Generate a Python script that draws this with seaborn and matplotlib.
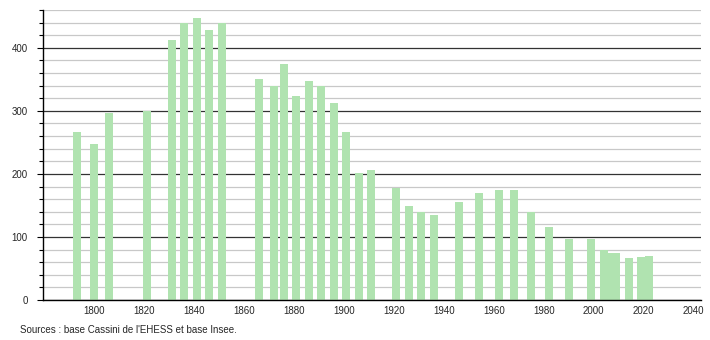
import numpy as np
import matplotlib
matplotlib.use("Agg")
import matplotlib.pyplot as plt
import seaborn as sns

years = [1793, 1800, 1806, 1821, 1831, 1836, 1841, 1846, 1851, 1866, 1872, 1876,
         1881, 1886, 1891, 1896, 1901, 1906, 1911, 1921, 1926, 1931, 1936, 1946,
         1954, 1962, 1968, 1975, 1982, 1990, 1999, 2004, 2006, 2009, 2014, 2019, 2022]
population = [267, 248, 296, 300, 413, 440, 448, 428, 440, 351, 340, 374,
              323, 347, 339, 312, 266, 202, 207, 177, 149, 140, 135, 156,
              170, 175, 175, 140, 116, 97, 97, 79, 75, 74, 67, 68, 70]
x_ticks = list(range(1800, 2041, 20))
y_major = [0, 100, 200, 300, 400]
source_text = "Sources : base Cassini de l'EHESS et base Insee."

sns.set_style("white")
plt.rcParams['font.family'] = ['Liberation Sans', 'DejaVu Sans']

fig = plt.figure(figsize=(7.1, 3.4), dpi=100)
ax = fig.add_axes([43/710, 40/340, 658/710, 290/340])

min_gap = np.diff(sorted(years)).min()
sns.barplot(x=years, y=population, native_scale=True, color="#b0e3b0",
            saturation=1, width=3.2/min_gap, ax=ax, zorder=3,
            edgecolor="none", linewidth=0)

ax.set_xlim(1779.5, 2043)
ax.set_ylim(0, 460)
ax.set_xticks(x_ticks)
ax.set_xticklabels([str(t) for t in x_ticks])
ax.set_yticks(y_major)
ax.set_yticks(np.arange(0, 461, 20), minor=True)

ax.grid(False)
ax.grid(True, which="minor", axis="y", color="#c8c8c8", linewidth=0.9, zorder=0)
ax.grid(True, which="major", axis="y", color="#333333", linewidth=0.9, zorder=1)
ax.set_axisbelow(True)

for s in ["top", "right"]:
    ax.spines[s].set_visible(False)
for s in ["left", "bottom"]:
    ax.spines[s].set_color("black")
    ax.spines[s].set_linewidth(1.0)
    ax.spines[s].set_zorder(5)

ax.tick_params(axis="y", which="major", direction="out", length=4, width=0.8,
               color="black", labelsize=7, pad=7, left=True)
ax.tick_params(axis="y", which="minor", direction="out", length=3, width=0.8,
               color="black", left=True)
ax.tick_params(axis="x", which="both", length=0, labelsize=7, pad=4)
ax.set_xlabel("")
ax.set_ylabel("")

fig.text(20/710, 1 - 330/340, source_text, fontsize=7, ha="left", va="center")

fig.savefig("out.png", dpi=100)
